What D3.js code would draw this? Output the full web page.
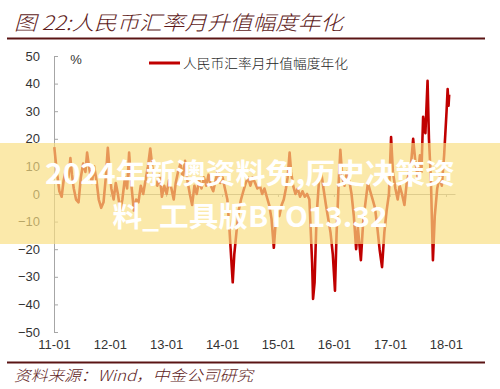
<!DOCTYPE html>
<html><head><meta charset="utf-8">
<script src="https://cdn.jsdelivr.net/npm/d3@7/dist/d3.min.js"></script>
<style>
html,body{margin:0;padding:0;background:#fff;}
svg{display:block;}
</style></head>
<body>
<svg id="c" width="500" height="389"></svg>
<script>
const titleText = "图 22:人民币汇率月升值幅度年化";
const legendLabel = "人民币汇率月升值幅度年化";
const sourceText = "资料来源：Wind，中金公司研究";
const unitLabel = "%";
const watermarkLines = ["2024年新澳资料免,历史决策资", "料_工具版BTO13.32"];
const yTicks = [50, 40, 30, 20, 10, 0, -10, -20, -30, -40, -50];
const xTickLabels = ["11-01","12-01","13-01","14-01","15-01","16-01","17-01","18-01"];

const dates = [
"2011-01-03","2011-01-12","2011-01-22","2011-02-05","2011-02-20","2011-03-05","2011-03-20","2011-04-05","2011-04-18","2011-04-28",
"2011-05-10","2011-05-25","2011-06-10","2011-06-25","2011-07-10","2011-07-25","2011-08-05","2011-08-20","2011-09-05","2011-09-20",
"2011-10-05","2011-10-20","2011-11-05","2011-11-20","2011-12-05","2011-12-18","2011-12-28",
"2012-01-10","2012-01-25","2012-02-08","2012-02-22","2012-03-08","2012-03-22","2012-04-08","2012-04-22","2012-05-05","2012-05-20",
"2012-06-05","2012-06-20","2012-07-05","2012-07-20","2012-08-05","2012-08-20","2012-09-05","2012-09-20","2012-10-05","2012-10-20",
"2012-11-05","2012-11-20","2012-12-05","2012-12-20",
"2013-01-05","2013-01-20","2013-02-05","2013-02-20","2013-03-05","2013-03-20","2013-04-05","2013-04-20","2013-05-05","2013-05-20",
"2013-06-05","2013-06-20","2013-07-05","2013-07-20","2013-08-05","2013-08-20","2013-09-05","2013-09-20","2013-10-05","2013-10-20",
"2013-11-05","2013-11-20","2013-12-05","2013-12-20",
"2014-01-05","2014-01-20","2014-02-05","2014-02-20","2014-03-05","2014-03-12","2014-03-22","2014-04-05","2014-04-20","2014-05-05",
"2014-05-20","2014-06-05","2014-06-20","2014-07-05","2014-07-20","2014-08-05","2014-08-20","2014-09-05","2014-09-20","2014-10-05",
"2014-10-20","2014-11-05","2014-11-20","2014-12-05","2014-12-15","2014-12-28",
"2015-01-10","2015-01-25","2015-02-08","2015-02-22","2015-03-05","2015-03-18","2015-03-28","2015-04-10","2015-04-25","2015-05-10",
"2015-05-25","2015-06-10","2015-06-25","2015-07-10","2015-07-25","2015-08-12","2015-08-18","2015-08-28","2015-09-10","2015-09-25",
"2015-10-10","2015-10-25","2015-11-10","2015-11-25","2015-12-10","2015-12-25",
"2016-01-08","2016-01-18","2016-02-01","2016-02-12","2016-02-25","2016-03-10","2016-03-25","2016-04-10","2016-04-25","2016-05-10",
"2016-05-25","2016-06-05","2016-06-25","2016-07-10","2016-07-25","2016-08-10","2016-08-25","2016-09-10","2016-09-25","2016-10-10",
"2016-10-25","2016-11-10","2016-11-25","2016-12-10","2016-12-25",
"2017-01-08","2017-01-20","2017-02-05","2017-02-20","2017-03-05","2017-03-20","2017-04-05","2017-04-20","2017-05-05","2017-05-20",
"2017-06-01","2017-06-15","2017-07-01","2017-07-15","2017-07-25","2017-08-05","2017-08-20","2017-09-03","2017-09-12","2017-09-25",
"2017-10-08","2017-10-20","2017-11-05","2017-11-20","2017-12-05","2017-12-20",
"2018-01-05","2018-01-12","2018-01-18","2018-01-22"
];
const values = [
17,12,7,1,-1,5,9,6,13,7,
2,-2,-3,6,11,8,15,9,4,10,
5,-2,-5,-3,6,16.7,10,
2,-2,4,0,-6,-2,6,2,15,3,
-6,-2,-3,3,0,5,10,16.5,9,5,
3,7,-1,3,
0,5,2,-2,4,8,11,6,12,5,
0,-4,3,0,5,2,6,3,7,3,
1,5,8,4,
6,2,-2,-14,-26,-32,-22,-14,-6,-2,
1,4,6,3,6,4,2,3,0,2,
-1,-4,-9,-19.5,-12,-6,
-8,-4,-2,2,6,15,8,3,0,2,
-1,1,-1,0,-2,-25,-38,-32,-8,4,
8,2,-4,-9,-14,-22,
-35,-15,4,16,6,3,8,5,0,-8,
-20,-12,-24,-10,-3,4,1,-2,-5,-12,
-20,-26.5,-14,-6,0,
20.6,8,2,-2,3,0,-4,4,8,12,
20,12,6,14,8,28,22,41,20,5,
-24,-8,2,6,3,14,
30,38,32,36
];

const parse = d3.timeParse("%Y-%m-%d");
const data = dates.map((d,i)=>({date: parse(d), value: values[i]}));

const svg = d3.select("#c");
const maroon = "#5e1b1b";
const cjk = "'Noto Sans CJK SC', sans-serif";
const latin = "'Liberation Sans', Arial, sans-serif";

// title
svg.append("text").attr("x",14).attr("y",30)
  .attr("font-family",cjk).attr("font-size",20).attr("font-style","italic").attr("font-weight",300)
  .attr("fill",maroon).attr("textLength",329).attr("lengthAdjust","spacingAndGlyphs")
  .text(titleText);
svg.append("line").attr("x1",7).attr("x2",485).attr("y1",38.5).attr("y2",38.5)
  .attr("stroke","#5a1414").attr("stroke-width",2);

const x = d3.scaleTime().domain([parse("2011-01-01"), parse("2018-03-01")]).range([54, 455]);
const y = d3.scaleLinear().domain([-50, 50]).range([332, 56]);

// y axis
const yAxis = svg.append("g").attr("transform","translate(54,0)")
  .call(d3.axisLeft(y).tickValues(yTicks).tickSizeInner(-4).tickSizeOuter(-4).tickPadding(14).tickFormat(d3.format("d")));
yAxis.select(".domain").attr("stroke","#a6a6a6");
yAxis.selectAll(".tick line").attr("stroke","#a6a6a6");
yAxis.selectAll("text").attr("font-family",latin).attr("font-size",13).attr("fill","#333");

// zero line with ticks
const years = xTickLabels.map(s => parse("20" + s.slice(0,2) + "-01-01"));
const zAxis = svg.append("g").attr("transform",`translate(0,${y(0)})`)
  .call(d3.axisBottom(x).tickValues(years).tickSizeInner(3).tickSizeOuter(0).tickFormat(""));
zAxis.select(".domain").attr("stroke","#a6a6a6");
zAxis.selectAll(".tick line").attr("stroke","#a6a6a6");

// x labels
const xLab = svg.append("g").attr("transform","translate(0,332)")
  .call(d3.axisBottom(x).tickValues(years).tickSize(0).tickPadding(8).tickFormat((d,i)=>xTickLabels[i]));
xLab.select(".domain").remove();
xLab.selectAll("text").attr("font-family",latin).attr("font-size",13).attr("fill","#333");

// unit
svg.append("text").attr("x",76).attr("y",64).attr("text-anchor","middle")
  .attr("font-family",latin).attr("font-size",13).attr("fill","#333").text(unitLabel);

// line
const line = d3.line().x(d=>x(d.date)).y(d=>y(d.value));
svg.append("path").datum(data).attr("d",line).attr("fill","none")
  .attr("stroke","#c00000").attr("stroke-width",2.6).attr("stroke-linejoin","round");

// legend
svg.append("line").attr("x1",149).attr("x2",180).attr("y1",63).attr("y2",63)
  .attr("stroke","#c00000").attr("stroke-width",3);
svg.append("text").attr("x",183).attr("y",68)
  .attr("font-family",cjk).attr("font-size",13).attr("font-weight",300).attr("fill","#222")
  .attr("textLength",165).attr("lengthAdjust","spacingAndGlyphs").text(legendLabel);

// bottom rule + source
svg.append("line").attr("x1",7).attr("x2",485).attr("y1",362.5).attr("y2",362.5)
  .attr("stroke","#5a1414").attr("stroke-width",2);
svg.append("text").attr("x",14).attr("y",381)
  .attr("font-family",cjk).attr("font-size",15).attr("font-style","italic").attr("font-weight",300)
  .attr("fill",maroon).attr("textLength",239).attr("lengthAdjust","spacingAndGlyphs").text(sourceText);

// watermark band
svg.append("rect").attr("x",0).attr("y",143).attr("width",500).attr("height",101)
  .attr("fill","rgb(249,222,129)").attr("fill-opacity",0.675);
const wmY = [184, 227], wmW = [410, 275];
watermarkLines.forEach((t,i)=>{
  svg.append("text").attr("x",250).attr("y",wmY[i]).attr("text-anchor","middle")
    .attr("font-family",cjk).attr("font-size",28).attr("font-weight",700).attr("fill","#fff")
    .attr("textLength",wmW[i]).attr("lengthAdjust","spacingAndGlyphs").text(t);
});
</script>
</body></html>
